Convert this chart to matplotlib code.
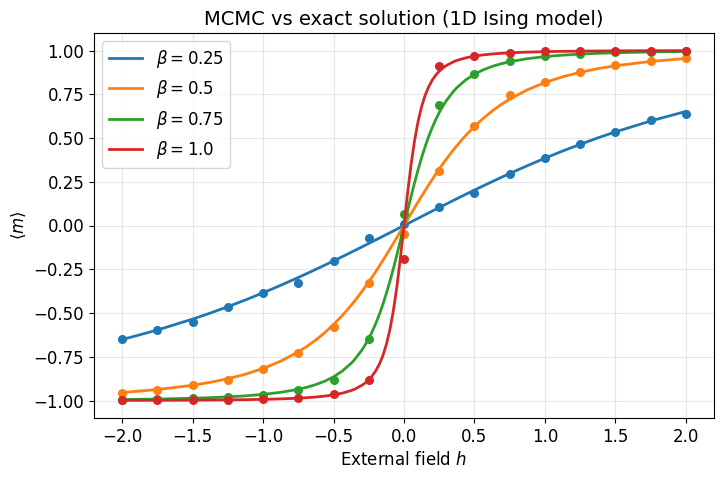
import numpy as np
import matplotlib
matplotlib.use("Agg")
import matplotlib.pyplot as plt

betas = [0.25, 0.5, 0.75, 1.0]
colors = ["#1f77b4", "#ff7f0e", "#2ca02c", "#d62728"]

# exact curves, values (positive half, curves are odd in h)
h_pos = [0.0, 0.025, 0.05, 0.075, 0.1, 0.125, 0.15, 0.175, 0.2, 0.225, 0.25, 0.275,
         0.3, 0.35, 0.375, 0.4375, 0.5, 0.5625, 0.625, 0.6875, 0.75, 0.875, 1.0,
         1.125, 1.25, 1.375, 1.5, 1.75, 2.0]
exact_025 = [0.0, 0.0103, 0.0206, 0.0309, 0.0412, 0.0515, 0.0617, 0.0720, 0.0822, 0.0924,
             0.1026, 0.1127, 0.1228, 0.1430, 0.1530, 0.1778, 0.2024, 0.2266, 0.2504,
             0.2739, 0.2969, 0.3417, 0.3845, 0.4253, 0.4639, 0.5004, 0.5348, 0.5972,
             0.6517]
exact_05 = [0.0, 0.0340, 0.0678, 0.1014, 0.1347, 0.1676, 0.1999, 0.2317, 0.2627, 0.2930,
            0.3225, 0.3511, 0.3788, 0.4314, 0.4562, 0.5141, 0.5661, 0.6124, 0.6535,
            0.6899, 0.7220, 0.7753, 0.8169, 0.8496, 0.8755, 0.8961, 0.9128, 0.9375,
            0.9543]
exact_075 = [0.0, 0.0837, 0.1658, 0.2446, 0.3189, 0.3878, 0.4510, 0.5081, 0.5593, 0.6050,
             0.6455, 0.6814, 0.7130, 0.7656, 0.7874, 0.8315, 0.8646, 0.8896, 0.9088,
             0.9239, 0.9359, 0.9533, 0.9651, 0.9734, 0.9794, 0.9838, 0.9871, 0.9917,
             0.9946]
exact_1 = [0.0, 0.1817, 0.3467, 0.4851, 0.5949, 0.6795, 0.7437, 0.7926, 0.8300, 0.8589,
           0.8815, 0.8994, 0.9138, 0.9352, 0.9431, 0.9579, 0.9679, 0.9749, 0.9800,
           0.9838, 0.9867, 0.9908, 0.9934, 0.9952, 0.9964, 0.9973, 0.9980, 0.9988,
           0.9993]

# MCMC estimates
h_mc = [-2.0, -1.75, -1.5, -1.25, -1.0, -0.75, -0.5, -0.25, 0.0,
        0.25, 0.5, 0.75, 1.0, 1.25, 1.5, 1.75, 2.0]
mc_025 = [-0.648, -0.597, -0.553, -0.464, -0.385, -0.326, -0.204, -0.073, 0.01,
          0.106, 0.188, 0.295, 0.388, 0.468, 0.536, 0.603, 0.639]
mc_05 = [-0.956, -0.941, -0.912, -0.882, -0.822, -0.730, -0.580, -0.326, -0.049,
         0.310, 0.568, 0.744, 0.818, 0.878, 0.917, 0.941, 0.960]
mc_075 = [-0.996, -0.992, -0.988, -0.978, -0.966, -0.938, -0.880, -0.650, 0.066,
          0.691, 0.867, 0.942, 0.970, 0.982, 0.989, 0.993, 0.996]
mc_1 = [-0.998, -0.998, -0.998, -0.997, -0.994, -0.988, -0.962, -0.885, -0.192,
        0.914, 0.971, 0.986, 0.995, 0.998, 0.999, 0.999, 0.999]

exact = [exact_025, exact_05, exact_075, exact_1]
mcmc = [mc_025, mc_05, mc_075, mc_1]

plt.rcParams["font.size"] = 12

fig = plt.figure(figsize=(7.24, 4.79), dpi=100)
ax = fig.add_axes([94 / 724, 1 - 418 / 479, (714 - 94) / 724, (418 - 33) / 479])

h_full = [-v for v in h_pos[::-1]] + h_pos[1:]
for beta, col, ex, mc in zip(betas, colors, exact, mcmc):
    m_full = [-v for v in ex[::-1]] + ex[1:]
    ax.plot(h_full, m_full, color=col, lw=2, label=rf"$\beta = {beta}$")
    ax.plot(h_mc, mc, "o", color=col, ms=5.5)

ax.set_xlim(-2.2, 2.2)
ax.set_ylim(-1.1, 1.1)
ax.set_xticks(np.arange(-2, 2.01, 0.5))
ax.set_yticks(np.arange(-1, 1.01, 0.25))
ax.grid(alpha=0.3)
ax.set_xlabel(r"External field $h$")
ax.set_ylabel(r"$\langle m\rangle$")
ax.set_title("MCMC vs exact solution (1D Ising model)", fontsize=14)
ax.legend(loc="upper left")

fig.savefig("out.png", dpi=100)
